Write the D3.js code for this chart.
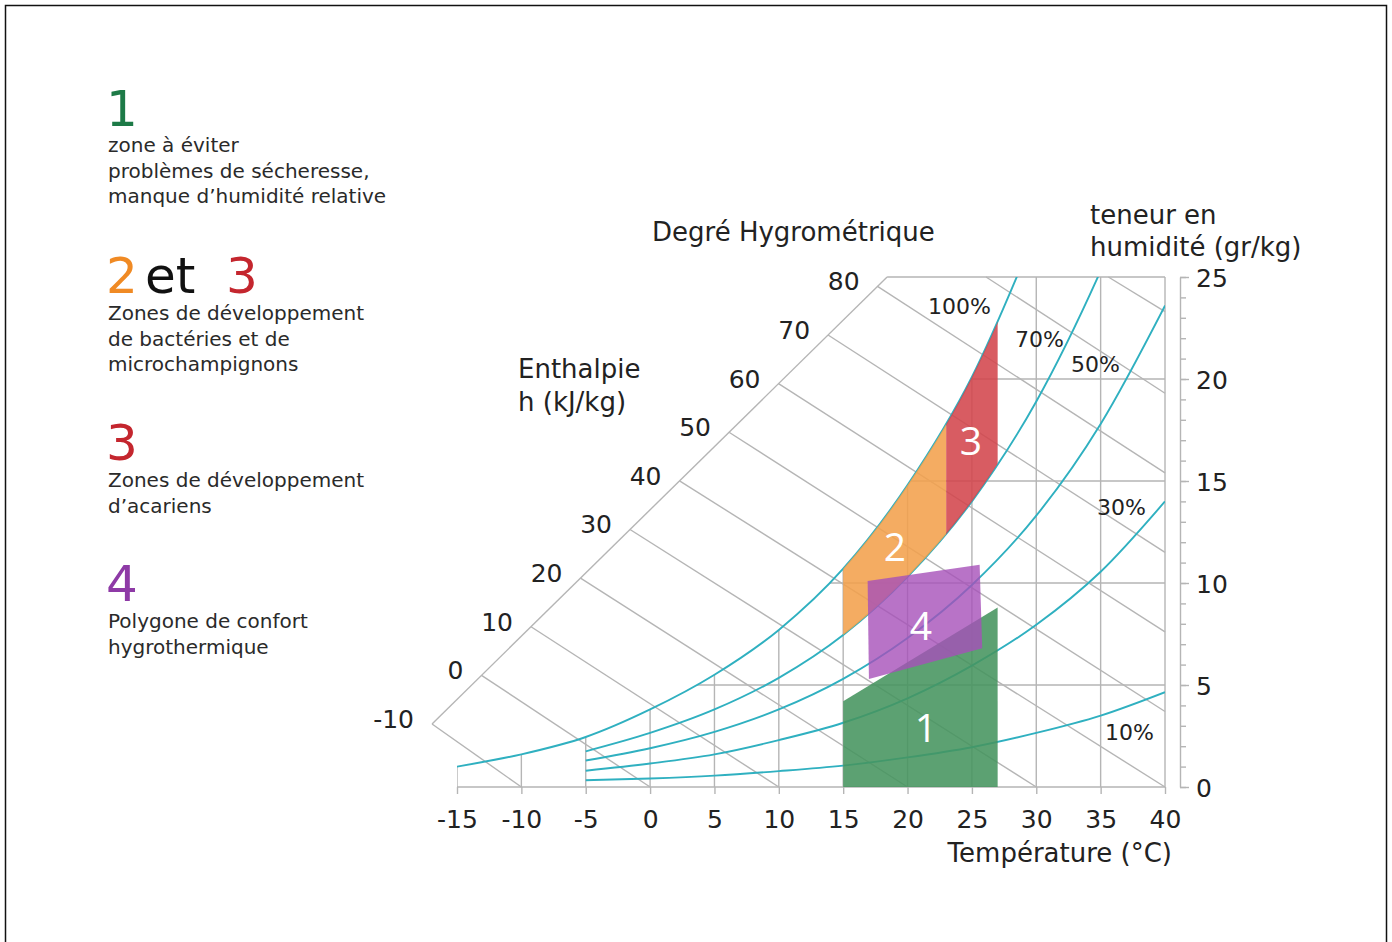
<!DOCTYPE html>
<html>
<head>
<meta charset="utf-8">
<script src="https://cdn.jsdelivr.net/npm/d3@7"></script>
<style>
  html, body { margin: 0; padding: 0; background: #fff; }
  svg { display: block; font-family: "DejaVu Sans", "Open Sans", sans-serif; }
</style>
</head>
<body>
<svg id="chart" width="1392" height="942"></svg>
<script>
// ---- Axis ticks ----
const tempTicks = [-15, -10, -5, 0, 5, 10, 15, 20, 25, 30, 35, 40];      // °C
const humidityTicks = [0, 5, 10, 15, 20, 25];                            // g/kg
const enthalpyTicks = [-10, 0, 10, 20, 30, 40, 50, 60, 70, 80];          // kJ/kg

// ---- Relative humidity curves: moisture content (g/kg) per temperature ----
const satTemps = [-15, -10, -5, 0, 5, 10, 15, 20, 25, 30];
const rh100 = [1.0, 1.6, 2.45, 3.8, 5.5, 7.7, 10.7, 14.8, 20.1, 27.3];
const rhTemps = [-5, 0, 5, 10, 15, 20, 25, 30, 35, 40];
const rh70 = [1.75, 2.65, 3.8, 5.35, 7.45, 10.3, 14.0, 18.9, 25.3, 33.0];
const rh50 = [1.3, 1.9, 2.7, 3.8, 5.3, 7.3, 9.9, 13.3, 17.8, 23.6];
const rh30 = [0.8, 1.15, 1.6, 2.3, 3.15, 4.35, 5.95, 7.95, 10.55, 14.0];
const rh10 = [0.33, 0.42, 0.56, 0.78, 1.05, 1.45, 1.95, 2.65, 3.5, 4.65];

// ---- Constant-enthalpy lines ----
// lines starting on the diagonal enthalpy scale, with their end point (T, w)
const enthalpyEndT = [-10, 0, 10, 20, 30, 40, 40, 40, 40, 40];
const enthalpyEndW = [0, 0, 0, 0, 0, 0, 3.7, 7.6, 11.5, 15.4];
// lines starting on the top edge (w = 25 g/kg)
const upperEnthalpy = [90, 100];
const upperStartT = [26.1, 35.6];
const upperEndW = [19.3, 23.3];

// ---- Zones ----
const zone1 = [[15, 0], [15, 4.2], [27, 8.8], [27, 0]];              // dryness
const zone2Range = [15, 23];                                          // bacteria / moulds (70–100 %)
const zone3Range = [23, 27];                                          // dust mites (70–100 %)
const zone4 = [[16.9, 10.1], [25.6, 10.9], [25.8, 6.8], [17.0, 5.3]]; // comfort polygon

// ---- Scales ----
const svg = d3.select("#chart");
const x = d3.scaleLinear().domain([-15, 40]).range([457, 1165]);
const y = d3.scaleLinear().domain([0, 25]).range([787, 277]);
// position of an enthalpy value along the diagonal scale, in (T, w)
const hT = d3.scaleLinear().domain([-10, 80]).range([-16.94, 17.67]);
const hW = d3.scaleLinear().domain([-10, 80]).range([3.09, 24.54]);
const hTop = hW.invert(25);

const GRID = "#b5b5b5";
const CURVE = "#2fb0c0";
const TEXT = "#222";

// page frame
svg.append("rect")
  .attr("x", 5.5).attr("y", 5.5).attr("width", 1381).attr("height", 960)
  .attr("fill", "none").attr("stroke", "#111").attr("stroke-width", 1.5);

const defs = svg.append("defs");

// clip: everything below the saturation curve
const satPts = satTemps.map((t, i) => [t, rh100[i]]);
const underSat = d3.area()
  .x(d => x(d[0])).y0(y(0)).y1(d => y(d[1]))
  .curve(d3.curveMonotoneX);
const cpSat = defs.append("clipPath").attr("id", "below-sat");
cpSat.append("path").attr("d", underSat(satPts));
cpSat.append("rect")
  .attr("x", x(29)).attr("y", y(25))
  .attr("width", x(40) - x(29)).attr("height", y(0) - y(25));

// clip: chart frame
defs.append("clipPath").attr("id", "frame")
  .append("rect")
  .attr("x", x(-15)).attr("y", y(25))
  .attr("width", x(40) - x(-15)).attr("height", y(0) - y(25));

// ---- Grid ----
const grid = svg.append("g").attr("stroke", GRID).attr("stroke-width", 1.4).attr("fill", "none");
const gridClip = grid.append("g").attr("clip-path", "url(#below-sat)");
gridClip.selectAll("line.v").data(tempTicks.slice(0, -1)).join("line")
  .attr("x1", d => x(d)).attr("x2", d => x(d))
  .attr("y1", y(0)).attr("y2", y(25));
gridClip.selectAll("line.h").data(humidityTicks.slice(1, -1)).join("line")
  .attr("x1", x(-15)).attr("x2", x(40))
  .attr("y1", d => y(d)).attr("y2", d => y(d));

// frame: bottom, right, top and the diagonal enthalpy scale
grid.append("line").attr("x1", x(-15)).attr("x2", x(40)).attr("y1", y(0)).attr("y2", y(0));
grid.append("line").attr("x1", x(40)).attr("x2", x(40)).attr("y1", y(0)).attr("y2", y(25));
grid.append("line").attr("x1", x(hT(hTop))).attr("x2", x(40)).attr("y1", y(25)).attr("y2", y(25));
grid.append("line")
  .attr("x1", x(hT(-10))).attr("y1", y(hW(-10)))
  .attr("x2", x(hT(hTop))).attr("y2", y(25));

// enthalpy lines
grid.selectAll("line.e").data(enthalpyTicks).join("line")
  .attr("x1", d => x(hT(d))).attr("y1", d => y(hW(d)))
  .attr("x2", (d, i) => x(enthalpyEndT[i])).attr("y2", (d, i) => y(enthalpyEndW[i]));
grid.selectAll("line.u").data(upperEnthalpy).join("line")
  .attr("x1", (d, i) => x(upperStartT[i])).attr("y1", y(25))
  .attr("x2", x(40)).attr("y2", (d, i) => y(upperEndW[i]));

// ---- Relative humidity curves ----
const line = d3.line().x(d => x(d[0])).y(d => y(d[1])).curve(d3.curveMonotoneX);
const curves = svg.append("g").attr("clip-path", "url(#frame)")
  .attr("fill", "none").attr("stroke", CURVE).attr("stroke-width", 1.9);
curves.append("path").attr("d", line(satPts));
[rh70, rh50, rh30, rh10].forEach(arr => {
  curves.append("path").attr("d", line(rhTemps.map((t, i) => [t, arr[i]])));
});

// ---- Zones ----
const band = rhTemps
  .filter(t => satTemps.includes(t))
  .map(t => ({ t, lo: rh70[rhTemps.indexOf(t)], hi: rh100[satTemps.indexOf(t)] }));
const bandArea = d3.area()
  .x(d => x(d.t)).y0(d => y(d.lo)).y1(d => y(d.hi))
  .curve(d3.curveMonotoneX);

function rangeClip(id, r) {
  defs.append("clipPath").attr("id", id).append("rect")
    .attr("x", x(r[0])).attr("y", y(25))
    .attr("width", x(r[1]) - x(r[0])).attr("height", y(0) - y(25));
}
rangeClip("z2", zone2Range);
rangeClip("z3", zone3Range);

const polygon = pts => "M" + pts.map(p => [x(p[0]), y(p[1])].join(",")).join("L") + "Z";
const zones = svg.append("g");
zones.append("path").attr("d", polygon(zone1)).attr("fill", "#46945f").attr("fill-opacity", 0.88);
zones.append("path").attr("d", bandArea(band)).attr("clip-path", "url(#z2)")
  .attr("fill", "#f3a04c").attr("fill-opacity", 0.88);
zones.append("path").attr("d", bandArea(band)).attr("clip-path", "url(#z3)")
  .attr("fill", "#d3454c").attr("fill-opacity", 0.88);
zones.append("path").attr("d", polygon(zone4)).attr("fill", "#a650b9").attr("fill-opacity", 0.8);

const zoneLabels = [
  { text: "1", px: 926, py: 742 },
  { text: "2", px: 895, py: 561 },
  { text: "3", px: 971, py: 455 },
  { text: "4", px: 921, py: 640 }
];
zones.selectAll("text").data(zoneLabels).join("text")
  .attr("x", d => d.px).attr("y", d => d.py)
  .attr("text-anchor", "middle").attr("fill", "#fff")
  .style("font-family", "'Open Sans', sans-serif").style("font-weight", 400)
  .style("font-size", "39px").text(d => d.text);

// ---- Axes ----
const xAxis = svg.append("g").attr("transform", `translate(0,${y(0)})`)
  .call(d3.axisBottom(x).tickValues(tempTicks).tickSize(7).tickPadding(16).tickFormat(d3.format("d")));
xAxis.select(".domain").remove();
xAxis.selectAll(".tick line").attr("stroke", GRID).attr("stroke-width", 1.4);
xAxis.selectAll(".tick text").attr("fill", TEXT)
  .style("font-size", "25px").style("font-family", "'DejaVu Sans', sans-serif")
  .text(d => d < 0 ? "-" + Math.abs(d) : d);

const axX = 1180;
const yMinor = svg.append("g").attr("transform", `translate(${axX},0)`)
  .call(d3.axisRight(y).tickValues(d3.range(0, 26)).tickSize(6).tickSizeOuter(0).tickFormat(""));
yMinor.select(".domain").attr("stroke", GRID).attr("stroke-width", 1.4);
yMinor.selectAll(".tick line").attr("stroke", GRID).attr("stroke-width", 1.4);
const yMajor = svg.append("g").attr("transform", `translate(${axX},0)`)
  .call(d3.axisRight(y).tickValues(humidityTicks).tickSize(9).tickPadding(7));
yMajor.select(".domain").remove();
yMajor.selectAll(".tick line").attr("stroke", GRID).attr("stroke-width", 1.4);
yMajor.selectAll(".tick text").attr("fill", TEXT).attr("dy", "0.38em")
  .style("font-size", "25px").style("font-family", "'DejaVu Sans', sans-serif");

// enthalpy scale labels
svg.append("g").selectAll("text").data(enthalpyTicks).join("text")
  .attr("x", d => x(hT(d)) - 18).attr("y", d => y(hW(d)) + 4)
  .attr("text-anchor", "end").attr("fill", TEXT)
  .style("font-size", "25px")
  .text(d => d < 0 ? "-" + Math.abs(d) : d);

// relative humidity labels
const rhLabels = [
  { text: "100%", px: 928, py: 314 },
  { text: "70%", px: 1015, py: 347 },
  { text: "50%", px: 1071, py: 372 },
  { text: "30%", px: 1097, py: 515 },
  { text: "10%", px: 1105, py: 740 }
];
svg.append("g").selectAll("text").data(rhLabels).join("text")
  .attr("x", d => d.px).attr("y", d => d.py).attr("fill", TEXT)
  .style("font-size", "22px").text(d => d.text);

// axis titles
const titles = svg.append("g").attr("fill", TEXT).style("font-size", "26px");
titles.append("text").attr("x", 652).attr("y", 241).text("Degré Hygrométrique");
titles.append("text").attr("x", 518).attr("y", 378).text("Enthalpie");
titles.append("text").attr("x", 518).attr("y", 411).text("h (kJ/kg)");
titles.append("text").attr("x", 1090).attr("y", 224).text("teneur en");
titles.append("text").attr("x", 1090).attr("y", 256).text("humidité (gr/kg)");
titles.append("text").attr("x", 1172).attr("y", 862).attr("text-anchor", "end").text("Température (°C)");

// ---- Legend ----
const legend = svg.append("g");
const big = (txt, px, py, color) => legend.append("text")
  .attr("x", px).attr("y", py).attr("fill", color)
  .style("font-size", "50px").text(txt);
const small = (lines, px, py) => lines.forEach((l, i) => legend.append("text")
  .attr("x", px).attr("y", py + i * 25.5).attr("fill", "#2a2a2a")
  .style("font-size", "20px").text(l));

big("1", 106, 126, "#1d7a47");
small(["zone à éviter", "problèmes de sécheresse,", "manque d’humidité relative"], 108, 152);

big("2", 106, 293, "#f08a24");
big("et", 145, 293, "#111");
big("3", 226, 293, "#c4262e");
small(["Zones de développement", "de bactéries et de", "microchampignons"], 108, 320);

big("3", 106, 460, "#c4262e");
small(["Zones de développement", "d’acariens"], 108, 487);

big("4", 106, 601, "#8e3aa6");
small(["Polygone de confort", "hygrothermique"], 108, 628);
</script>
</body>
</html>
